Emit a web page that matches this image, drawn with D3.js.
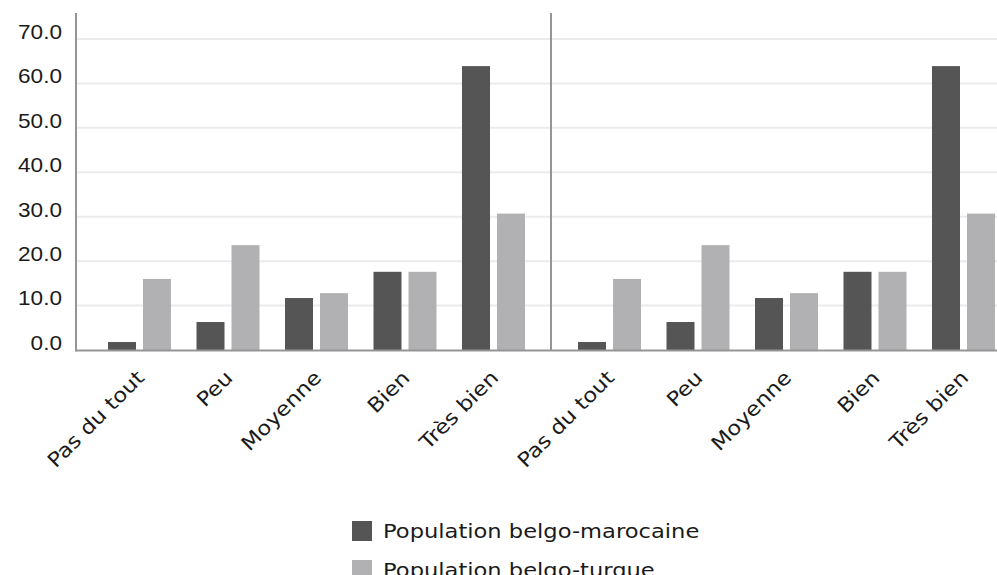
<!DOCTYPE html>
<html>
<head>
<meta charset="utf-8">
<script src="https://cdn.jsdelivr.net/npm/d3@7"></script>
<style>
  body { margin: 0; background: #fff; }
  svg { display: block; font-family: "DejaVu Sans", Verdana, sans-serif; }
  .grid line { stroke: #ebebeb; stroke-width: 2; }
  .y-axis text { font-size: 20px; fill: #1a1a1a; }
  .x-label { font-size: 20px; fill: #1a1a1a; }
  .legend text { font-size: 20px; fill: #1a1a1a; }
</style>
</head>
<body>
<div id="wrapper"></div>
<script>
// data
const categories = ["Pas du tout", "Peu", "Moyenne", "Bien", "Très bien"];
const seriesNames = ["Population belgo-marocaine", "Population belgo-turque"];
const marocaine = [1.8, 6.3, 11.7, 17.6, 63.9];
const turque = [16.0, 23.6, 12.8, 17.6, 30.7];
const panels = [0, 1];
const yTicks = [0, 10, 20, 30, 40, 50, 60, 70];
const colors = ["#555555", "#b1b1b3"];

// the source text is a bit wider than DejaVu Sans
const stretch = 1.13;

function drawChart() {
    const width = 997;
    const height = 575;
    const plot = { left: 76, top: 13, right: 997, bottom: 350 };

    const svg = d3.select("#wrapper")
        .append("svg")
        .attr("width", width)
        .attr("height", height);

    // scales
    const yScale = d3.scaleLinear()
        .domain([0, 70])
        .range([plot.bottom, 39]);

    const panelScale = d3.scaleLinear()
        .domain([0, 1])
        .range([95.25, 565.25]);

    const xScale = d3.scaleBand()
        .domain(categories)
        .range([0, 442.5]);

    const groupWidth = 63;
    const innerScale = d3.scaleBand()
        .domain(seriesNames)
        .range([0, groupWidth])
        .paddingInner(0.2);

    const groupOffset = (xScale.bandwidth() - groupWidth) / 2;

    // grid lines
    svg.append("g")
        .attr("class", "grid")
        .selectAll("line")
        .data(yTicks.filter(d => d > 0))
        .join("line")
        .attr("x1", plot.left)
        .attr("x2", plot.right)
        .attr("y1", d => yScale(d))
        .attr("y2", d => yScale(d));

    // y axis labels
    const yAxisGenerator = d3.axisLeft(yScale)
        .tickValues(yTicks)
        .tickSize(0)
        .tickPadding(14)
        .tickFormat(d3.format(".1f"));

    const yAxis = svg.append("g")
        .attr("class", "y-axis")
        .attr("transform", `translate(${plot.left},0)`)
        .call(yAxisGenerator);
    yAxis.select(".domain").remove();
    yAxis.selectAll("text")
        .attr("font-family", null)
        .attr("font-size", null)
        .attr("x", -14 / stretch)
        .attr("dy", "-0.03em")
        .attr("transform", `scale(${stretch},1)`);

    // bars
    const seriesValues = [marocaine, turque];
    panels.forEach(p => {
        const g = svg.append("g")
            .attr("transform", `translate(${panelScale(p)},0)`);

        const groups = g.selectAll(".group")
            .data(categories)
            .join("g")
            .attr("class", "group")
            .attr("transform", d => `translate(${xScale(d) + groupOffset},0)`);

        groups.selectAll("rect")
            .data((d, i) => seriesNames.map((s, j) => ({ series: s, idx: j, value: seriesValues[j][i] })))
            .join("rect")
            .attr("x", d => innerScale(d.series))
            .attr("width", innerScale.bandwidth())
            .attr("y", d => yScale(d.value))
            .attr("height", d => yScale(0) - yScale(d.value) + 1)
            .attr("fill", d => colors[d.idx]);

        // rotated category labels
        g.selectAll(".x-label")
            .data(categories)
            .join("text")
            .attr("class", "x-label")
            .attr("text-anchor", "end")
            .attr("transform", d => {
                const cx = xScale(d) + xScale.bandwidth() / 2 + 6;
                return `translate(${cx},379) rotate(-45) scale(${stretch},1)`;
            })
            .text(d => d);
    });

    // axis lines
    svg.append("line")
        .attr("x1", plot.left).attr("x2", plot.right)
        .attr("y1", plot.bottom + 0.5).attr("y2", plot.bottom + 0.5)
        .attr("stroke", "#959595").attr("stroke-width", 2);

    svg.append("line")
        .attr("x1", plot.left).attr("x2", plot.left)
        .attr("y1", plot.top).attr("y2", plot.bottom + 1.5)
        .attr("stroke", "#959595").attr("stroke-width", 2);

    const midX = (panelScale(0) + xScale.range()[1] + panelScale(1)) / 2 - 0.5;
    svg.append("line")
        .attr("x1", midX).attr("x2", midX)
        .attr("y1", plot.top).attr("y2", plot.bottom)
        .attr("stroke", "#959595").attr("stroke-width", 2);

    // legend
    const legend = svg.append("g")
        .attr("class", "legend")
        .attr("transform", "translate(352,521)");

    const items = legend.selectAll("g")
        .data(seriesNames)
        .join("g")
        .attr("transform", (d, i) => `translate(0,${i * 39})`);

    items.append("rect")
        .attr("width", 20)
        .attr("height", 20)
        .attr("fill", (d, i) => colors[i]);

    items.append("text")
        .attr("transform", `translate(31,10) scale(${stretch},1)`)
        .attr("dy", "0.35em")
        .text(d => d);
}

drawChart();
</script>
</body>
</html>
